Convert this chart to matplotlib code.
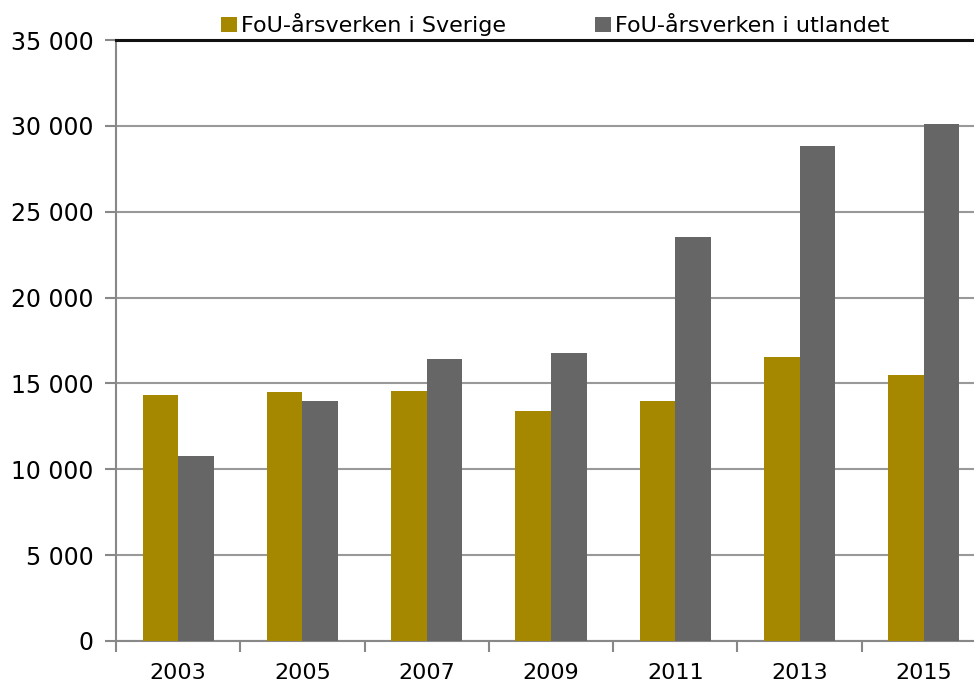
import matplotlib
matplotlib.use("Agg")
import matplotlib.pyplot as plt
from matplotlib.ticker import FuncFormatter
import numpy as np

years = ["2003", "2005", "2007", "2009", "2011", "2013", "2015"]
sverige = [14300, 14500, 14550, 13400, 13950, 16550, 15500]
utlandet = [10800, 14000, 16400, 16750, 23550, 28850, 30100]
series_names = ["FoU-årsverken i Sverige", "FoU-årsverken i utlandet"]

GOLD = "#a58800"
GRAY = "#666666"

plt.rcParams["font.family"] = ["DejaVu Sans"]

W, H = 974, 689
fig = plt.figure(figsize=(W / 100, H / 100), dpi=100)
left, right, top, bottom = 116, 986, 40, 641
ax = fig.add_axes([left / W, 1 - bottom / H, (right - left) / W, (bottom - top) / H])

x = np.arange(len(years))
bw = 0.286
ax.bar(x - bw / 2, sverige, bw, color=GOLD, label=series_names[0], zorder=3)
ax.bar(x + bw / 2, utlandet, bw, color=GRAY, label=series_names[1], zorder=3)

ax.set_xlim(-0.5, len(years) - 0.5)
ax.set_ylim(0, 35000)
ax.set_yticks(np.arange(0, 35001, 5000))
ax.yaxis.set_major_formatter(FuncFormatter(lambda v, _: f"{int(v):,}".replace(",", " ")))
ax.set_xticks(x)
ax.set_xticklabels(years)
ax.set_xticks(np.arange(-0.5, len(years)), minor=True)
ax.tick_params(axis="x", which="major", length=0, pad=16, labelsize=16)
ax.tick_params(axis="x", which="minor", length=8, width=1.5, color="#888888", direction="out")
ax.tick_params(axis="y", length=8, width=1.5, color="#888888", pad=8, labelsize=17)

ax.grid(axis="y", color="#999999", linewidth=1.5, zorder=0)
for s in ["top", "right"]:
    ax.spines[s].set_visible(False)
ax.spines["left"].set_color("#888888")
ax.spines["left"].set_linewidth(1.5)
ax.spines["bottom"].set_color("#888888")
ax.spines["bottom"].set_linewidth(1.5)
ax.axhline(35000, color="#111111", linewidth=2.2, zorder=4, clip_on=False)

leg = fig.legend(loc="upper center", bbox_to_anchor=(0.57, 1.01), ncol=2, frameon=False,
                 fontsize=16, handlelength=0.7, handleheight=0.7, handletextpad=0.2,
                 columnspacing=4.0)

fig.savefig("out.png", dpi=100)
